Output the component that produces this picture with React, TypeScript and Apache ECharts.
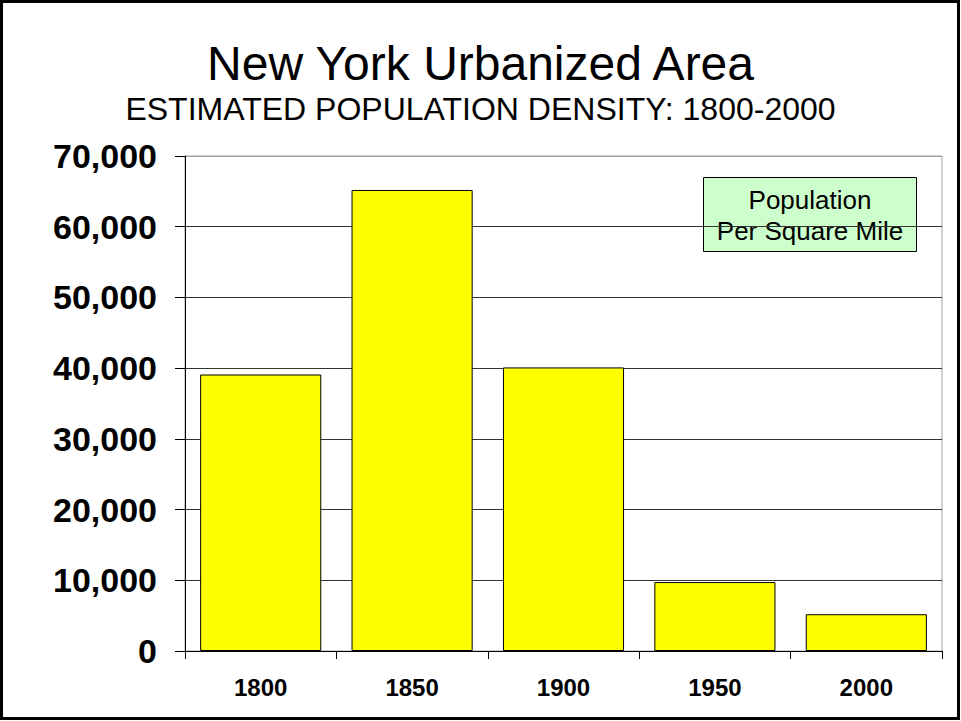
import React, { useEffect, useRef } from "react";
import * as echarts from "echarts";

const years = ["1800", "1850", "1900", "1950", "2000"];
const density = [39100, 65200, 40100, 9750, 5200];
const titleText = "New York Urbanized Area";
const subtitleText = "ESTIMATED POPULATION DENSITY: 1800-2000";
const legendLines = ["Population", "Per Square Mile"];

const FONT = "'Liberation Sans', Arial, sans-serif";

export default function App() {
  const ref = useRef<HTMLDivElement>(null);
  useEffect(() => {
    document.body.style.margin = "0";
    const chart = echarts.init(ref.current!, null, { renderer: "svg" });
    const splitColors = ["#333", "#333", "#333", "#333", "#333", "#333", "#333", "#a0a0a0"];
    chart.setOption({
      animation: false,
      backgroundColor: "#fff",
      title: [
        {
          text: titleText,
          left: "center",
          top: 34,
          textStyle: { fontFamily: FONT, fontSize: 48, fontWeight: "normal", color: "#000" },
        },
        {
          text: subtitleText,
          left: "center",
          top: 88,
          textStyle: { fontFamily: FONT, fontSize: 32, fontWeight: "normal", color: "#000" },
        },
      ],
      grid: { left: 185, top: 156, right: 19, bottom: 70, show: true, borderColor: "#a0a0a0", borderWidth: 1, backgroundColor: "transparent" },
      xAxis: {
        type: "category",
        data: years,
        axisLine: { lineStyle: { color: "#000", width: 1 } },
        axisTick: { show: true, length: 8, alignWithLabel: false, lineStyle: { color: "#000" } },
        axisLabel: { fontFamily: FONT, fontSize: 24, fontWeight: "bold", color: "#000", margin: 24 },
      },
      yAxis: {
        type: "value",
        min: 0,
        max: 70000,
        interval: 10000,
        axisLine: { show: true, lineStyle: { color: "#000", width: 1 } },
        axisTick: { show: true, length: 10, lineStyle: { color: "#000" } },
        axisLabel: {
          fontFamily: FONT,
          fontSize: 34,
          fontWeight: "bold",
          color: "#000",
          margin: 28,
          formatter: (v: number) => v.toLocaleString("en-US"),
        },
        splitLine: { show: true, lineStyle: { color: splitColors, width: 1 } },
      },
      series: [
        {
          type: "bar",
          data: density,
          barCategoryGap: "20%",
          itemStyle: { color: "#ffff00", borderColor: "#000", borderWidth: 1 },
        },
      ],
      graphic: [
        {
          type: "rect",
          shape: { x: 1.5, y: 1.5, width: 957, height: 717 },
          style: { fill: "none", stroke: "#000", lineWidth: 3 },
          z: 100,
        },
        {
          type: "group",
          left: 703,
          top: 177,
          z: 50,
          children: [
            {
              type: "rect",
              shape: { x: 0, y: 0, width: 213, height: 74 },
              style: { fill: "#ccffcc", stroke: "#000", lineWidth: 1 },
            },
            {
              type: "text",
              x: 106.5,
              y: 22,
              style: {
                text: legendLines[0],
                fontFamily: FONT,
                fontSize: 26,
                fill: "#000",
                align: "center",
                verticalAlign: "middle",
              },
            },
            {
              type: "text",
              x: 106.5,
              y: 53,
              style: {
                text: legendLines[1],
                fontFamily: FONT,
                fontSize: 26,
                fill: "#000",
                align: "center",
                verticalAlign: "middle",
              },
            },
          ],
        },
      ],
    });
    return () => chart.dispose();
  }, []);
  return <div ref={ref} style={{ position: "absolute", left: 0, top: 0, width: 961, height: 721 }} />;
}
